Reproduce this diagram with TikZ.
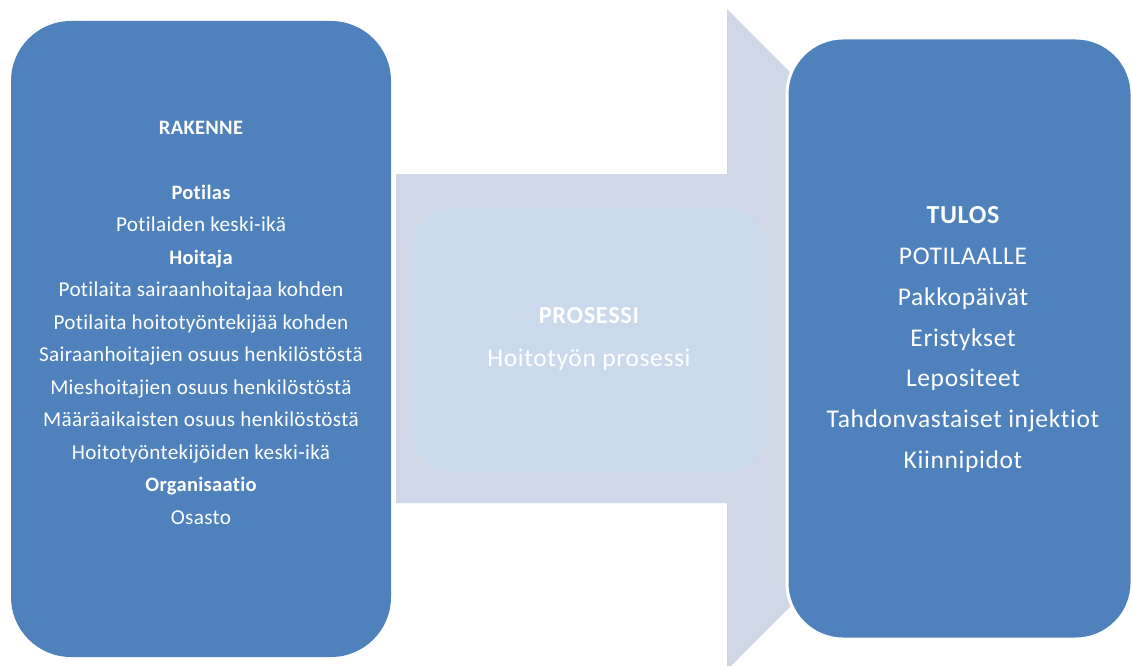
\documentclass[tikz,border=0pt]{standalone}
\usepackage{fontspec}
\setmainfont{Carlito}[Ligatures=NoCommon]
\definecolor{boxblue}{HTML}{4F81BD}
\definecolor{arrowfill}{HTML}{D0D8E8}
\definecolor{midfill}{HTML}{CAD9EB}
\begin{document}
\begin{tikzpicture}[x=1pt,y=-1pt,
  bigbox/.style={fill=boxblue, draw=white, line width=3pt, inner sep=0pt},
  midbox/.style={fill=midfill, draw=none, inner sep=0pt},
  ltxt/.style={text=white, anchor=base, inner sep=0pt, font=\fontsize{21.2}{24}\selectfont\addfontfeatures{LetterSpace=1.5}},
  lbold/.style={text=white, anchor=base, inner sep=0pt, font=\fontsize{20.5}{23}\selectfont\bfseries\addfontfeatures{LetterSpace=1.5}},
  rtxt/.style={text=white, anchor=base, inner sep=0pt, font=\fontsize{25.5}{28}\selectfont\addfontfeatures{LetterSpace=2.5}},
  rbold/.style={text=white, anchor=base, inner sep=0pt, font=\fontsize{26}{28}\selectfont\bfseries\addfontfeatures{LetterSpace=2.5}},
  mtxt/.style={text=white, anchor=base, inner sep=0pt, font=\fontsize{25.5}{28}\selectfont\addfontfeatures{LetterSpace=2.5}},
  mbold/.style={text=white, anchor=base, inner sep=0pt, font=\fontsize{24.5}{28}\selectfont\bfseries\addfontfeatures{LetterSpace=2.5}}]
\useasboundingbox (0,0) rectangle (1132,666);
\begin{scope}
\clip (0,0) rectangle (1132,666);
% big arrow
\fill[arrowfill] (396,174) -- (727,174) -- (727,9) -- (1057,339.5) -- (727,670) -- (727,503) -- (396,503) -- cycle;
\end{scope}
% middle box
\node[midbox, rounded corners=40pt, minimum width=355pt, minimum height=264pt] (mid) at (589.5,340) {};
% left box
\node[bigbox, draw=none, rounded corners=60pt, minimum width=380pt, minimum height=636pt] (left) at (201,339) {};
% right box
\node[bigbox, rounded corners=56pt, minimum width=345pt, minimum height=601pt] (right) at (959.5,338.5) {};
% left text
\node[lbold] (l1) at (201,135) {RAKENNE};
\node[lbold] (l2) at (201,199.3) {Potilas};
\node[ltxt] (l3) at (201,231.7) {Potilaiden keski-ikä};
\node[lbold] (l4) at (201,264.2) {Hoitaja};
\node[ltxt] (l5) at (201,296.7) {Potilaita sairaanhoitajaa kohden};
\node[ltxt] (l6) at (201,329.2) {Potilaita hoitotyöntekijää kohden};
\node[ltxt] (l7) at (201,361.7) {Sairaanhoitajien osuus henkilöstöstä};
\node[ltxt] (l8) at (201,394.2) {Mieshoitajien osuus henkilöstöstä};
\node[ltxt] (l9) at (201,426.7) {Määräaikaisten osuus henkilöstöstä};
\node[ltxt] (l10) at (201,459.2) {Hoitotyöntekijöiden keski-ikä};
\node[lbold] (l11) at (201,491.7) {Organisaatio};
\node[ltxt] (l12) at (201,524.2) {Osasto};
% middle text
\node[mbold] (m1) at (589,323.3) {PROSESSI};
\node[mtxt] (m2) at (589,366) {Hoitotyön prosessi};
% right text
\node[rbold] (r1) at (963,223.3) {TULOS};
\node[rtxt] (r2) at (963,264.5) {POTILAALLE};
\node[rtxt] (r3) at (963,305.3) {Pakkopäivät};
\node[rtxt] (r4) at (963,346.1) {Eristykset};
\node[rtxt] (r5) at (963,386.9) {Lepositeet};
\node[rtxt] (r6) at (963,427.7) {Tahdonvastaiset injektiot};
\node[rtxt] (r7) at (963,468.5) {Kiinnipidot};
\end{tikzpicture}
\end{document}
